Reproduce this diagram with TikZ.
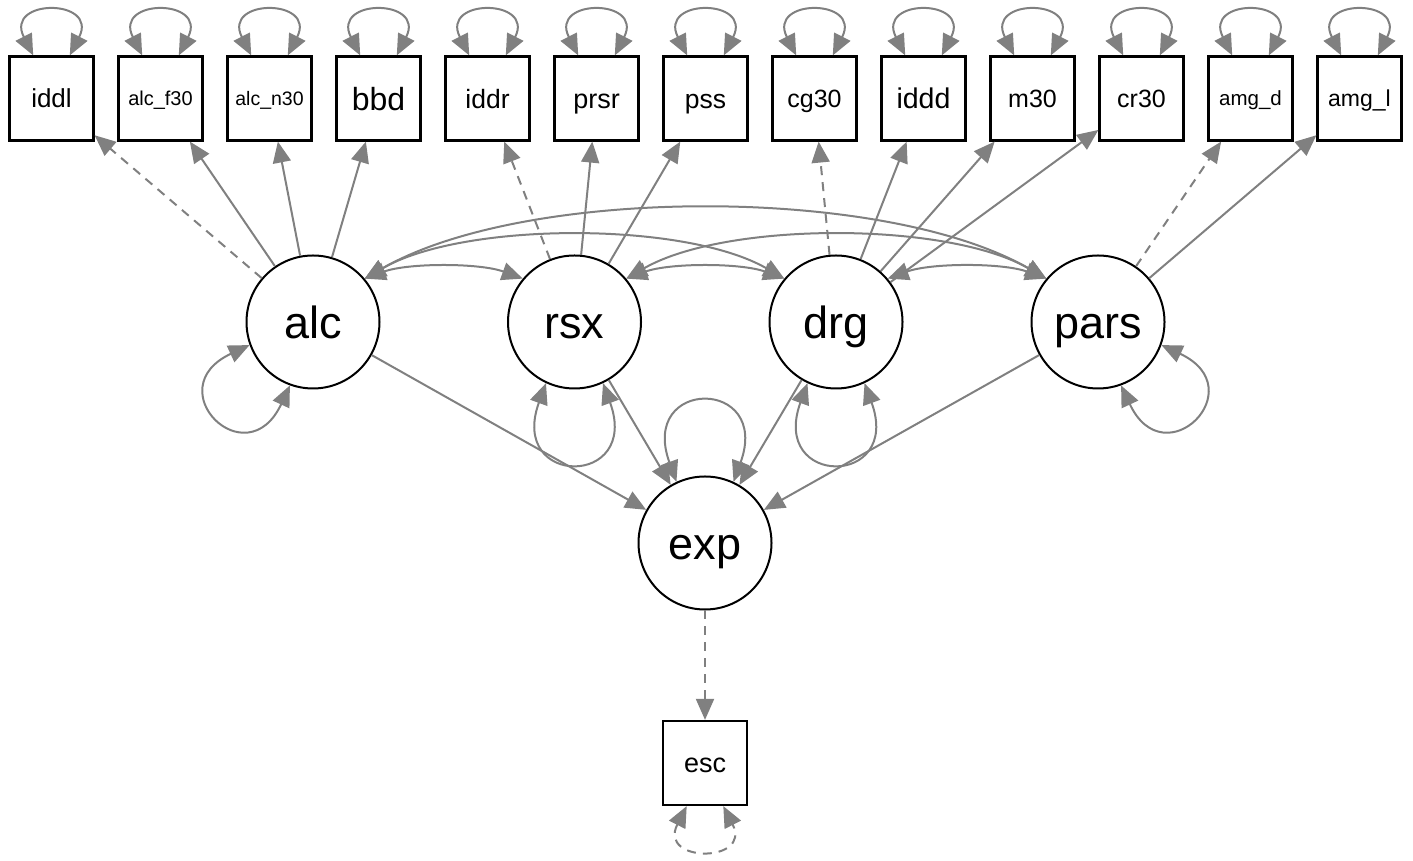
\documentclass[tikz,border=0pt]{standalone}
\usepackage{fontspec}
\setmainfont{Liberation Sans}
\usetikzlibrary{arrows.meta}
\definecolor{edgegray}{RGB}{128,128,128}
\tikzset{
  obsnode/.style = {rectangle, draw=black, line width=2.2pt, minimum size=84pt, inner sep=0pt},
  latnode/.style = {circle, draw=black, line width=2pt, minimum size=133pt, inner sep=0pt, lbl=45},
  lbl/.style = {font=\fontsize{#1}{#1}\selectfont, text height=\dimexpr #1pt*72/100\relax, text depth=0pt},
  lnk/.style = {draw=edgegray, line width=2pt, -{Triangle[length=21pt,width=18pt]}},
  lnkfix/.style = {lnk, dash pattern=on 9pt off 7pt},
  cov/.style = {lnk, {Triangle[length=21pt,width=18pt]}-{Triangle[length=21pt,width=18pt]}},
  topvar/.style = {cov, out=117, in=63, looseness=4.5},
  latvar/.style = {cov, looseness=5},
}
\begin{document}
\begin{tikzpicture}[x=1pt, y=1pt]
\useasboundingbox (0,0) rectangle (1413,861);
% observed
\node [obsnode, lbl=26] (iddl) at (51.5,762.5) {iddl};
\node [obsnode, lbl=20] (alcf) at (160.5,762.5) {alc\_f30};
\node [obsnode, lbl=19.5] (alcn) at (269.5,762.5) {alc\_n30};
\node [obsnode, lbl=32] (bbd) at (378.5,762.5) {bbd};
\node [obsnode, lbl=26.5] (iddr) at (487.5,762.5) {iddr};
\node [obsnode, lbl=27] (prsr) at (596.5,762.5) {prsr};
\node [obsnode, lbl=26.5] (pss) at (705.5,762.5) {pss};
\node [obsnode, lbl=25] (cg) at (814.5,762.5) {cg30};
\node [obsnode, lbl=28.5] (iddd) at (923.5,762.5) {iddd};
\node [obsnode, lbl=25] (m) at (1032.5,762.5) {m30};
\node [obsnode, lbl=25] (cr) at (1141.5,762.5) {cr30};
\node [obsnode, lbl=20.5] (amgd) at (1250.5,762.5) {amg\_d};
\node [obsnode, lbl=23] (amgl) at (1359.5,762.5) {amg\_l};
\node [obsnode, lbl=27] (esc) at (705,98) {esc};
% latent
\node [latnode] (alc) at (313,539) {alc};
\node [latnode] (rsx) at (574.5,539) {rsx};
\node [latnode] (drg) at (836,539) {drg};
\node [latnode] (pars) at (1098,539) {pars};
\node [latnode] (exp) at (705,318) {exp};

% loadings
\draw [lnkfix] (alc) -- (iddl);
\draw [lnk] (alc) -- (alcf);
\draw [lnk] (alc) -- (alcn);
\draw [lnk] (alc) -- (bbd);
\draw [lnkfix] (rsx) -- (iddr);
\draw [lnk] (rsx) -- (prsr);
\draw [lnk] (rsx) -- (pss);
\draw [lnkfix] (drg) -- (cg);
\draw [lnk] (drg) -- (iddd);
\draw [lnk] (drg) -- (m);
\draw [lnk] (drg) -- (cr);
\draw [lnkfix] (pars) -- (amgd);
\draw [lnk] (pars) -- (amgl);

% regressions
\draw [lnk] (alc) -- (exp);
\draw [lnk] (rsx) -- (exp);
\draw [lnk] (drg) -- (exp);
\draw [lnk] (pars) -- (exp);
\draw [lnkfix] (exp) -- (esc);

% covariances
\draw [cov] (alc.40) to[out=20, in=160, looseness=0.75] (rsx.140);
\draw [cov] (rsx.40) to[out=20, in=160, looseness=0.75] (drg.140);
\draw [cov] (drg.40) to[out=20, in=160, looseness=0.75] (pars.140);
\draw [cov] (alc.40) to[out=30, in=150, looseness=0.7] (drg.140);
\draw [cov] (rsx.40) to[out=30, in=150, looseness=0.7] (pars.140);
\draw [cov] (alc.40) to[out=30, in=150, looseness=0.7] (pars.140);

% variances
\foreach \n in {iddl,alcf,alcn,bbd,iddr,prsr,pss,cg,iddd,m,cr,amgd,amgl}
  \draw [topvar] (\n.113) to (\n.67);
\draw [topvar, out=243, in=297, dash pattern=on 9pt off 7pt] (esc.247) to (esc.293);
\draw [latvar, out=205, in=245, looseness=4.6] (alc.200) to (alc.250);
\draw [latvar, out=250, in=290] (rsx.245) to (rsx.295);
\draw [latvar, out=250, in=290] (drg.245) to (drg.295);
\draw [latvar, out=295, in=335, looseness=4.6] (pars.290) to (pars.340);
\draw [latvar, out=110, in=70, looseness=5] (exp.115) to (exp.65);
\end{tikzpicture}
\end{document}
